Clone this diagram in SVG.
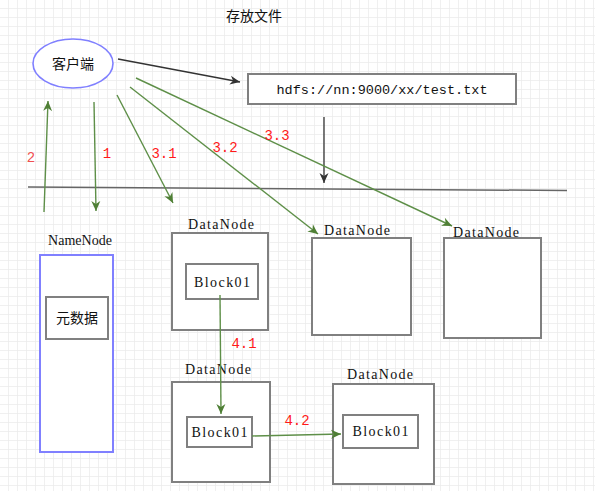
<svg xmlns="http://www.w3.org/2000/svg" width="595" height="491" viewBox="0 0 595 491">
<defs>
<pattern id="grid" width="9" height="9" patternUnits="userSpaceOnUse">
<path d="M9 0V9M0 9H9" fill="none" stroke="#ebebeb" stroke-width="1.5"/>
</pattern>
<marker id="ag" viewBox="0 0 12 12" refX="11" refY="6" markerWidth="12" markerHeight="12" markerUnits="userSpaceOnUse" orient="auto">
<path d="M1 1.5L11 6L1 10.5L4 6Z" fill="#4f7f35"/>
</marker>
<marker id="ak" viewBox="0 0 12 12" refX="11" refY="6" markerWidth="12" markerHeight="12" markerUnits="userSpaceOnUse" orient="auto">
<path d="M1 1.5L11 6L1 10.5L4 6Z" fill="#333"/>
</marker>
<style>
.box{fill:#fff;stroke:#808080;stroke-width:2}
.lbl{font-family:"Liberation Serif",serif;font-size:14px;fill:#111;text-anchor:middle}
.mono{font-family:"Liberation Mono",monospace;font-size:13.5px;fill:#111;text-anchor:middle}
.cn{font-family:"Noto Sans CJK SC",sans-serif;font-size:14px;fill:#111;text-anchor:middle}
.num{font-family:"Liberation Mono",monospace;font-size:14px;fill:#ff1a1a;text-anchor:middle}
.g{fill:none;stroke:#5e8f48;stroke-width:1.4;marker-end:url(#ag)}
.k{fill:none;stroke:#333;stroke-width:1.3;marker-end:url(#ak)}
</style>
</defs>
<rect width="595" height="491" fill="#fff"/>
<rect width="595" height="491" fill="url(#grid)"/>

<text class="cn" x="254" y="21" font-size="15">存放文件</text>

<g id="client">
<ellipse cx="73" cy="63.5" rx="40" ry="24.5" fill="#fff" stroke="#8080ff" stroke-width="1.6"/>
<text class="cn" x="73" y="69">客户端</text>
</g>

<g id="path">
<rect x="248" y="74" width="268" height="30" class="box"/>
<text class="mono" x="382" y="94" textLength="211" lengthAdjust="spacing">hdfs://nn:9000/xx/test.txt</text>
</g>

<line x1="28" y1="187" x2="567" y2="190.5" stroke="#666" stroke-width="1.5"/>

<g id="namenode">
<text class="lbl" x="80" y="245" textLength="64" lengthAdjust="spacing">NameNode</text>
<rect x="40" y="255" width="73" height="197" fill="#fff" stroke="#8080ff" stroke-width="2"/>
<rect x="46" y="297" width="62" height="42" class="box"/>
<text class="cn" x="77" y="323">元数据</text>
</g>

<g id="datanode1">
<text class="lbl" x="221" y="229" textLength="66" lengthAdjust="spacing">DataNode</text>
<rect x="172" y="233" width="96" height="97" class="box"/>
<rect x="186" y="264" width="72" height="35" class="box"/>
<text class="lbl" x="222" y="287" textLength="56" lengthAdjust="spacing">Block01</text>
</g>

<g id="datanode2">
<text class="lbl" x="357" y="235" textLength="66" lengthAdjust="spacing">DataNode</text>
<rect x="312" y="238" width="99" height="97" class="box"/>
</g>

<g id="datanode3">
<text class="lbl" x="486" y="237" textLength="66" lengthAdjust="spacing">DataNode</text>
<rect x="444" y="238" width="97" height="100" class="box"/>
</g>

<g id="datanode4">
<text class="lbl" x="218" y="374" textLength="66" lengthAdjust="spacing">DataNode</text>
<rect x="172" y="382" width="98" height="100" class="box"/>
<rect x="187" y="417" width="65" height="30" class="box"/>
<text class="lbl" x="219.5" y="437" textLength="56" lengthAdjust="spacing">Block01</text>
</g>

<g id="datanode5">
<text class="lbl" x="380" y="379" textLength="66" lengthAdjust="spacing">DataNode</text>
<rect x="333" y="384" width="101" height="100" class="box"/>
<rect x="343" y="415" width="75" height="33" class="box"/>
<text class="lbl" x="380.5" y="436" textLength="56" lengthAdjust="spacing">Block01</text>
</g>

<g id="connectors">
<line class="k" x1="118" y1="59" x2="240" y2="82"/>
<line class="k" x1="324" y1="117" x2="324" y2="183"/>
<line class="g" x1="44" y1="212" x2="48" y2="101"/>
<line class="g" x1="94" y1="102" x2="96" y2="211"/>
<line class="g" x1="117" y1="95" x2="173" y2="203"/>
<line class="g" x1="130" y1="87" x2="318" y2="234"/>
<line class="g" x1="136" y1="78" x2="452" y2="226"/>
<line class="g" x1="220" y1="295" x2="221" y2="414"/>
<line class="g" x1="252" y1="436" x2="341" y2="434"/>
<text class="num" x="31" y="162" style="fill:#f05050">2</text>
<text class="num" x="107" y="158">1</text>
<text class="num" x="164" y="158">3.1</text>
<text class="num" x="225" y="152">3.2</text>
<text class="num" x="277" y="140">3.3</text>
<text class="num" x="244" y="348">4.1</text>
<text class="num" x="297" y="425">4.2</text>
</g>
</svg>
